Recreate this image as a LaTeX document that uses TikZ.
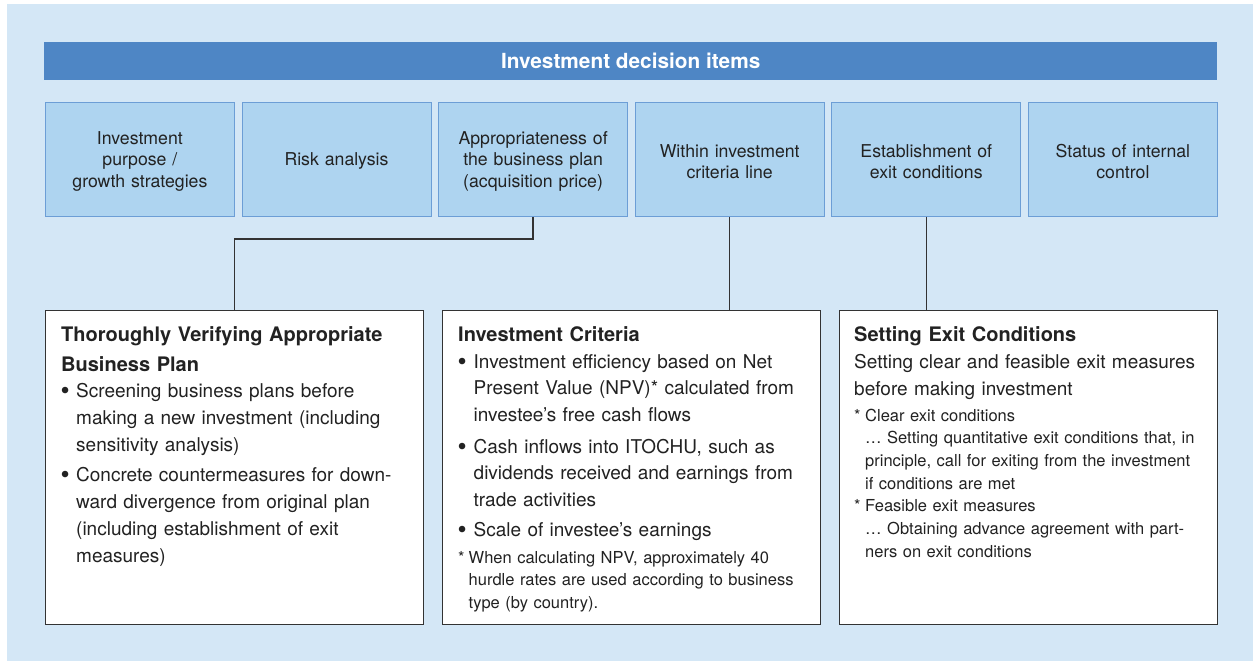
\documentclass[tikz,border=0pt]{standalone}
\usepackage{fontspec}
\setmainfont{TeX Gyre Heros}
\definecolor{bgc}{HTML}{D4E7F6}
\definecolor{headc}{HTML}{4E86C5}
\definecolor{topfill}{HTML}{AED4F0}
\definecolor{topline}{HTML}{6C9ED6}
\definecolor{boxline}{HTML}{333333}
\definecolor{txt}{HTML}{222222}
\newcommand{\mybul}[1]{\makebox[#1][l]{\hspace*{-0.6pt}\raisebox{-2.2pt}{\fontsize{26}{26}\selectfont\textbullet}}}
\newcommand{\myind}[1]{\hspace*{#1}}
\newcommand{\topstrut}{\rule{0pt}{17pt}}
\begin{document}
\begin{tikzpicture}[x=1pt,y=-1pt,
  headbar/.style={fill=headc, draw=none, anchor=north west, minimum width=1173pt, minimum height=38pt, inner sep=0pt, text=white, font=\fontsize{20.8}{25}\selectfont\bfseries},
  topbox/.style={draw=topline, fill=topfill, line width=0.8pt, anchor=north west, minimum width=189pt, minimum height=114pt, inner sep=0pt, text width=180pt, align=center, text=txt, font=\fontsize{17.7}{21.5}\selectfont},
  botbox/.style={draw=boxline, fill=white, line width=1.2pt, anchor=north west, minimum width=378pt, minimum height=314pt, inner sep=0pt},
  conn/.style={draw=boxline, line width=1.5pt},
  txtblock/.style={anchor=base west, inner sep=0pt, text width=360pt, align=left, text=txt},
  hd/.style={txtblock, font=\fontsize{20}{30}\selectfont\bfseries},
  bd/.style={txtblock, font=\fontsize{19}{27}\selectfont},
  bdb/.style={txtblock, font=\fontsize{19}{26.5}\selectfont},
  ft/.style={txtblock, font=\fontsize{16.5}{22.7}\selectfont}
]
\useasboundingbox (0,0) rectangle (1253,661);
\fill[bgc] (7,4) rectangle (1253,661);

\node[headbar] (head) at (44,42) {Investment decision items};

\node[topbox] (t1) at (45,102) {\topstrut Investment\\purpose /\\growth strategies};
\node[topbox] (t2) at (241.6,102) {\topstrut Risk analysis};
\node[topbox] (t3) at (438.2,102) {\topstrut Appropriateness of\\the business plan\\(acquisition price)};
\node[topbox] (t4) at (634.8,102) {\topstrut Within investment\\criteria line};
\node[topbox] (t5) at (831.4,102) {\topstrut Establishment of\\exit conditions};
\node[topbox] (t6) at (1028,102) {\topstrut Status of internal\\control};

\node[botbox] (bA) at (45,310) {};
\node[botbox] (bB) at (442,310) {};
\node[botbox] (bC) at (839,310) {};

\draw[conn] (t3.south) -- ++(0,22) -| (bA.north);
\draw[conn] (t4.south) -- (t4.south |- bB.north);
\draw[conn] (t5.south) -- (t5.south |- bC.north);

% Box A
\node[hd] (hA) at (61,341) {Thoroughly Verifying Appropriate\newline Business Plan};
\node[bd] (a1) at (61,397) {\mybul{15pt}Screening business plans before\newline
  \myind{15pt}making a new investment (including\newline
  \myind{15pt}sensitivity analysis)};
\node[bd] (a2) at (61,481) {\mybul{15pt}Concrete countermeasures for down-\newline
  \myind{15pt}ward divergence from original plan\newline
  \myind{15pt}(including establishment of exit\newline
  \myind{15pt}measures)};

% Box B
\node[hd] (hB) at (458,341) {Investment Criteria};
\node[bdb] (b1) at (458,368) {\mybul{15.5pt}Investment efficiency based on Net\newline
  \myind{15.5pt}Present Value (NPV)* calculated from\newline
  \myind{15.5pt}investee’s free cash flows};
\node[bdb] (b2) at (458,453) {\mybul{15.5pt}Cash inflows into ITOCHU, such as\newline
  \myind{15.5pt}dividends received and earnings from\newline
  \myind{15.5pt}trade activities};
\node[bdb] (b3) at (458,536) {\mybul{15.5pt}Scale of investee’s earnings};
\node[ft] (fB) at (458,563) {\makebox[10.5pt][l]{*}When calculating NPV, approximately 40\newline
  \myind{10.5pt}hurdle rates are used according to business\newline
  \myind{10.5pt}type (by country).};

% Box C
\node[hd] (hC) at (854,341) {Setting Exit Conditions};
\node[bd] (c1) at (854,368) {Setting clear and feasible exit measures\newline before making investment};
\node[ft] (fC) at (854,421) {\makebox[11pt][l]{*}Clear exit conditions\newline
  \myind{11pt}… Setting quantitative exit conditions that, in\newline
  \myind{11pt}principle, call for exiting from the investment\newline
  \myind{11pt}if conditions are met\newline
  \makebox[11pt][l]{*}Feasible exit measures\newline
  \myind{11pt}… Obtaining advance agreement with part-\newline
  \myind{11pt}ners on exit conditions};
\end{tikzpicture}
\end{document}
